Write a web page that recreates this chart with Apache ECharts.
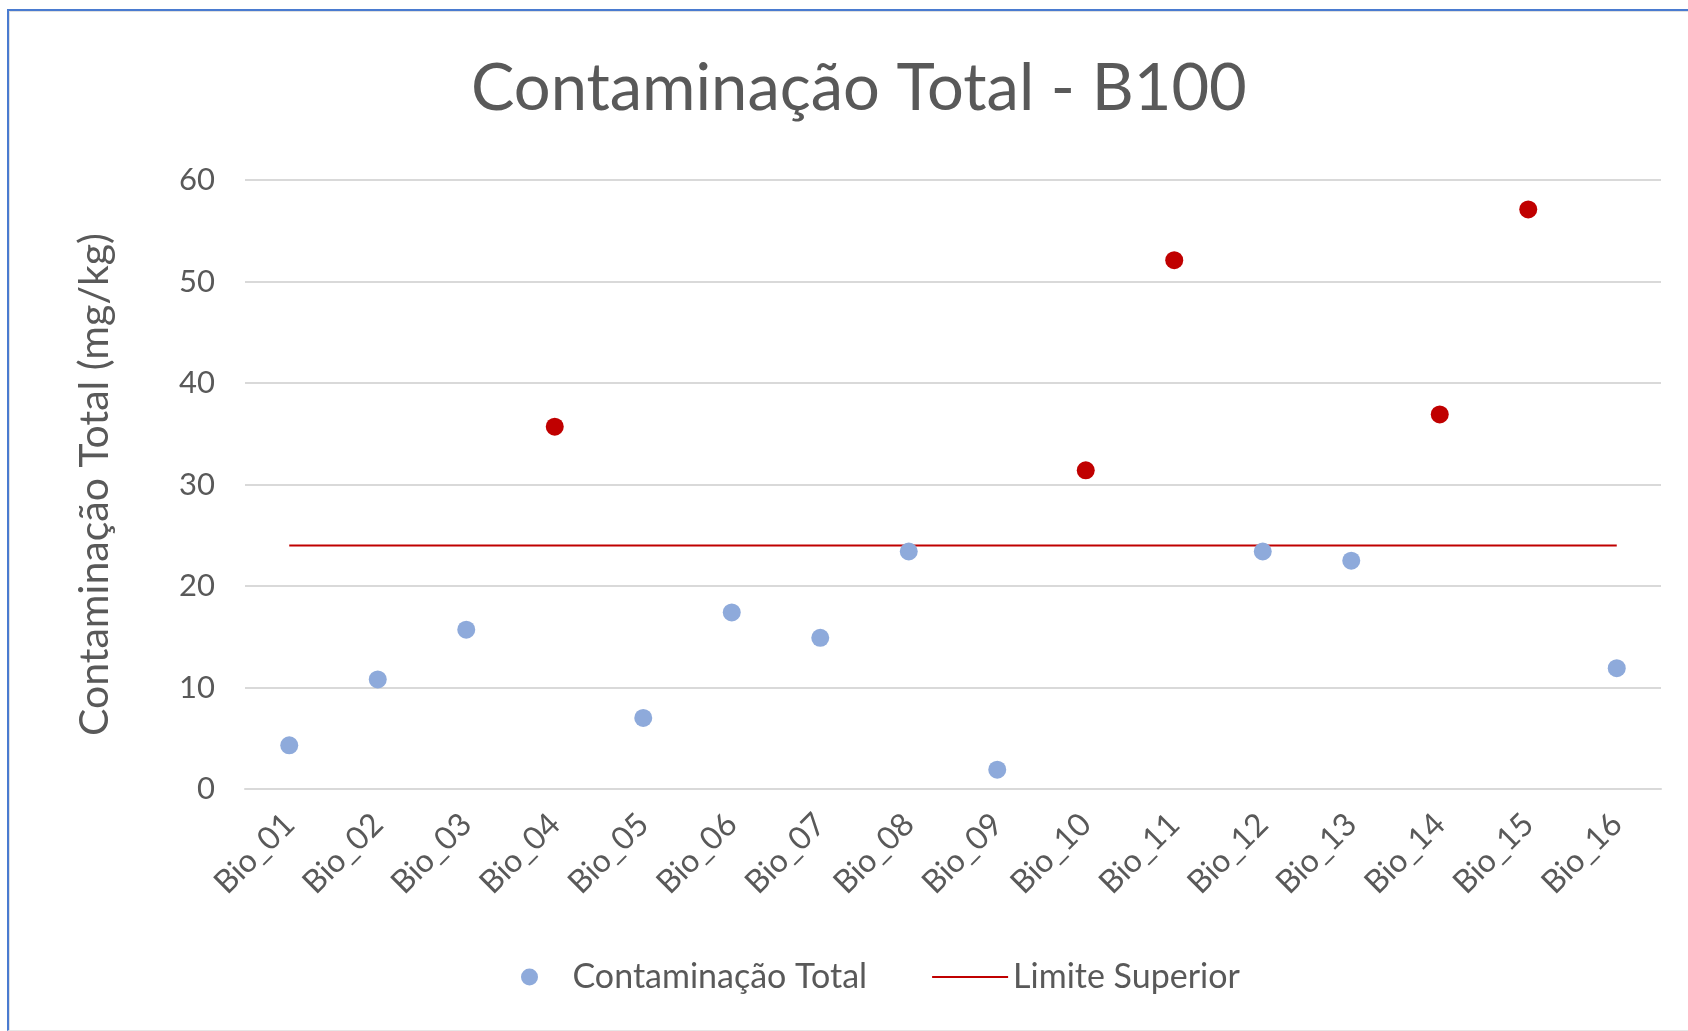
<!DOCTYPE html>
<html>
<head>
<meta charset="utf-8">
<script src="https://cdn.jsdelivr.net/npm/echarts@6/dist/echarts.min.js"></script>
<style>
  html, body { margin: 0; padding: 0; background: #fff; }
  #chart { width: 1688px; height: 1031px; }
  .frame {
    position: absolute; left: 7px; top: 9px; right: 0; bottom: 0;
    border-top: 2px solid #4a7bd0; border-left: 2px solid #4a7bd0;
    border-bottom: 1px solid #e6e6e6;
    box-shadow: inset 1px 1px 0 #e0e0e0;
    pointer-events: none;
  }
</style>
</head>
<body>
<div id="chart"></div>
<div class="frame"></div>
<script>
const categories = ['Bio_01', 'Bio_02', 'Bio_03', 'Bio_04', 'Bio_05', 'Bio_06', 'Bio_07', 'Bio_08',
  'Bio_09', 'Bio_10', 'Bio_11', 'Bio_12', 'Bio_13', 'Bio_14', 'Bio_15', 'Bio_16']
const contaminacao = [4.3, 10.8, 15.7, 35.7, 7.0, 17.4, 14.9, 23.4, 1.9, 31.4, 52.1, 23.4, 22.5, 36.9, 57.1, 11.9]
const limiteSuperior = [24, 24, 24, 24, 24, 24, 24, 24, 24, 24, 24, 24, 24, 24, 24, 24]
const yTicks = [0, 10, 20, 30, 40, 50, 60]

const blue = '#8eaadb'
const red = '#c00000'
const textColor = '#595959'
const font = 'Lato'

const chart = echarts.init(document.getElementById('chart'))

// points above the limit are drawn red
const scatterData = contaminacao.map((v, i) =>
  v > limiteSuperior[i] ? { value: v, itemStyle: { color: red } } : v)

const option = {
  animation: false,
  textStyle: { fontFamily: font },
  title: {
    text: 'Contaminação Total - B100',
    left: 466,
    top: 52,
    textStyle: { fontFamily: font, fontSize: 65, fontWeight: 'normal', color: textColor }
  },
  grid: { left: 245, right: 27, top: 180, bottom: 242 },
  legend: {
    left: 516,
    top: 955,
    itemWidth: 76,
    itemHeight: 17,
    itemGap: 64,
    textStyle: { fontFamily: font, fontSize: 34, color: textColor },
    data: [
      { name: 'Contaminação Total', icon: 'circle' },
      { name: 'Limite Superior', itemStyle: { opacity: 0 } }
    ]
  },
  xAxis: {
    type: 'category',
    data: categories,
    boundaryGap: true,
    axisLine: { lineStyle: { color: '#d9d9d9', width: 2 } },
    axisTick: { show: false },
    axisLabel: { rotate: 45, fontSize: 32, color: textColor, margin: 30, interval: 0 }
  },
  yAxis: {
    type: 'value',
    min: yTicks[0],
    max: yTicks[yTicks.length - 1],
    interval: 10,
    name: 'Contaminação Total (mg/kg)',
    nameLocation: 'middle',
    nameRotate: 90,
    nameGap: 130,
    nameTextStyle: { fontFamily: font, fontSize: 41, color: textColor },
    axisLine: { show: false },
    axisTick: { show: false },
    axisLabel: { fontSize: 31, color: textColor, margin: 30 },
    splitLine: { lineStyle: { color: '#d9d9d9', width: 2 } }
  },
  series: [
    {
      name: 'Contaminação Total',
      type: 'scatter',
      symbol: 'circle',
      symbolSize: 18,
      itemStyle: { color: blue, opacity: 1 },
      data: scatterData,
      z: 3
    },
    {
      name: 'Limite Superior',
      type: 'line',
      symbol: 'none',
      lineStyle: { color: red, width: 2 },
      itemStyle: { color: red },
      data: limiteSuperior,
      z: 2
    }
  ]
}

chart.setOption(option)
</script>
</body>
</html>
